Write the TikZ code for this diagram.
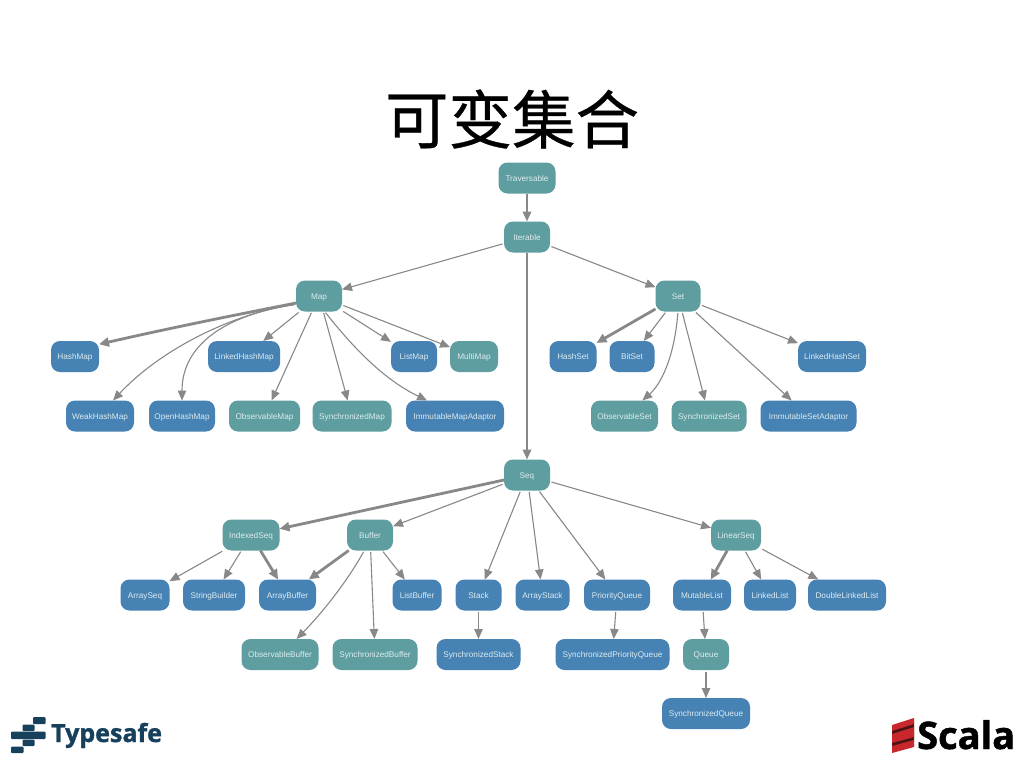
\documentclass[tikz,border=0pt]{standalone}
\usepackage{fontspec}
\setmainfont{Liberation Sans}
\newfontfamily\cjkfont[FakeBold=0.5]{Noto Sans CJK SC}
\newfontfamily\logofont{Open Sans}
\newfontfamily\logoheavy[FakeBold=1.2]{Open Sans Bold}
\usetikzlibrary{arrows.meta}
\definecolor{tealbox}{HTML}{5F9EA0}
\definecolor{bluebox}{HTML}{4682B4}
\definecolor{edgegray}{HTML}{888888}
\definecolor{boxtext}{HTML}{DCECEF}
\definecolor{typesafe}{HTML}{17405C}
\definecolor{scalared}{HTML}{C8282C}
\definecolor{scaladark}{HTML}{4A1414}
\tikzset{
  box/.style={rectangle,rounded corners=9pt,minimum height=31pt,inner sep=0pt,outer sep=0pt,
    text=boxtext,font=\fontsize{8.2}{9}\selectfont,text height=7pt,text depth=1pt},
  tbox/.style={box,fill=tealbox},
  bbox/.style={box,fill=bluebox},
  link/.style={draw=edgegray,line width=1.1pt,-{Triangle[length=10pt,width=8.5pt]},shorten <=1.5pt},
  heavy/.style={link,line width=2.8pt,-{Triangle[length=10pt,width=9pt]},shorten <=0pt},
  mid/.style={link,line width=2pt,shorten <=0pt},
  tsbar/.style={fill=typesafe,rounded corners=1pt},
  scband/.style={fill=scalared}
}
\begin{document}
\begin{tikzpicture}[x=1pt,y=-1pt]
\useasboundingbox (0,0) rectangle (1024,768);
\fill[white] (0,0) rectangle (1024,768);
\node[font=\cjkfont\fontsize{63.5}{70}\selectfont,text=black] (title) at (512,119) {可变集合};

\node[tbox,minimum width=57pt] (Traversable) at (527,178) {Traversable};
\node[tbox,minimum width=46pt] (Iterable) at (527,237) {Iterable};
\node[tbox,minimum width=46pt] (Map) at (319,296) {Map};
\node[tbox,minimum width=45pt] (Set) at (678,296) {Set};
\node[tbox,minimum width=46pt] (Seq) at (527,475) {Seq};
\node[bbox,minimum width=48pt] (HashMap) at (75,356.5) {HashMap};
\node[bbox,minimum width=72pt] (LinkedHashMap) at (244,356.5) {LinkedHashMap};
\node[bbox,minimum width=46pt] (ListMap) at (414,356.5) {ListMap};
\node[tbox,minimum width=48pt] (MultiMap) at (474,356.5) {MultiMap};
\node[bbox,minimum width=47pt] (HashSet) at (573,356.5) {HashSet};
\node[bbox,minimum width=45pt] (BitSet) at (632,356.5) {BitSet};
\node[bbox,minimum width=68pt] (LinkedHashSet) at (832,356.5) {LinkedHashSet};
\node[bbox,minimum width=68pt] (WeakHashMap) at (100,416) {WeakHashMap};
\node[bbox,minimum width=66pt] (OpenHashMap) at (182,416) {OpenHashMap};
\node[tbox,minimum width=71pt] (ObservableMap) at (264.5,416) {ObservableMap};
\node[tbox,minimum width=79pt] (SynchronizedMap) at (352,416) {SynchronizedMap};
\node[bbox,minimum width=98pt] (ImmutableMapAdaptor) at (455,416) {ImmutableMapAdaptor};
\node[tbox,minimum width=67pt] (ObservableSet) at (624.5,416) {ObservableSet};
\node[tbox,minimum width=75pt] (SynchronizedSet) at (709,416) {SynchronizedSet};
\node[bbox,minimum width=96pt] (ImmutableSetAdaptor) at (808.5,416) {ImmutableSetAdaptor};
\node[tbox,minimum width=57pt] (IndexedSeq) at (251,535) {IndexedSeq};
\node[tbox,minimum width=46pt] (Buffer) at (370,535) {Buffer};
\node[tbox,minimum width=50pt] (LinearSeq) at (736,535) {LinearSeq};
\node[bbox,minimum width=49pt] (ArraySeq) at (145,595) {ArraySeq};
\node[bbox,minimum width=62pt] (StringBuilder) at (214,595) {StringBuilder};
\node[bbox,minimum width=57pt] (ArrayBuffer) at (287.5,595) {ArrayBuffer};
\node[bbox,minimum width=49pt] (ListBuffer) at (417,595) {ListBuffer};
\node[bbox,minimum width=46pt] (Stack) at (478.5,595) {Stack};
\node[bbox,minimum width=54pt] (ArrayStack) at (542.5,595) {ArrayStack};
\node[bbox,minimum width=66pt] (PriorityQueue) at (617,595) {PriorityQueue};
\node[bbox,minimum width=58pt] (MutableList) at (702,595) {MutableList};
\node[bbox,minimum width=52pt] (LinkedList) at (770,595) {LinkedList};
\node[bbox,minimum width=78pt] (DoubleLinkedList) at (847,595) {DoubleLinkedList};
\node[tbox,minimum width=77pt] (ObservableBuffer) at (280,654.5) {ObservableBuffer};
\node[tbox,minimum width=85pt] (SynchronizedBuffer) at (375,654.5) {SynchronizedBuffer};
\node[bbox,minimum width=84pt] (SynchronizedStack) at (478.5,654.5) {SynchronizedStack};
\node[bbox,minimum width=114pt] (SynchronizedPriorityQueue) at (612.5,654.5) {SynchronizedPriorityQueue};
\node[tbox,minimum width=46pt] (Queue) at (706,654.5) {Queue};
\node[bbox,minimum width=88pt] (SynchronizedQueue) at (706,713.5) {SynchronizedQueue};

\draw[mid] (Traversable) -- (Iterable);
\draw[link] (Iterable) -- (Map);
\draw[link] (Iterable) -- (Set);
\draw[mid] (Iterable) -- (Seq);

\draw[heavy] (Map.197) .. controls (240,314) and (170,328) .. (HashMap.27);
\draw[link] (Map.200) .. controls (240,312) and (165,345) .. (WeakHashMap.50);
\draw[link] (Map.200) .. controls (225,315) and (182,345) .. (OpenHashMap.north);
\draw[link] (Map) -- (LinkedHashMap);
\draw[link] (Map) -- (ObservableMap);
\draw[link] (Map) -- (SynchronizedMap);
\draw[link] (Map.290) .. controls (355,350) and (385,380) .. (ImmutableMapAdaptor.151);
\draw[link] (Map) -- (ListMap);
\draw[link] (Map) -- (MultiMap);

\draw[heavy] (Set) -- (HashSet);
\draw[link] (Set) -- (BitSet);
\draw[link] (Set.south) .. controls (674,360) and (660,385) .. (ObservableSet.41);
\draw[link] (Set) -- (SynchronizedSet);
\draw[link] (Set) -- (ImmutableSetAdaptor);
\draw[link] (Set) -- (LinkedHashSet);

\draw[heavy] (Seq) -- (IndexedSeq);
\draw[link] (Seq) -- (Buffer);
\draw[link] (Seq) -- (Stack);
\draw[link] (Seq) -- (ArrayStack);
\draw[link] (Seq) -- (PriorityQueue);
\draw[link] (Seq) -- (LinearSeq);

\draw[link] (IndexedSeq) -- (ArraySeq);
\draw[link] (IndexedSeq) -- (StringBuilder);
\draw[heavy] (IndexedSeq) -- (ArrayBuffer);
\draw[heavy] (Buffer) -- (ArrayBuffer);
\draw[link] (Buffer.250) .. controls (345,585) and (320,615) .. (ObservableBuffer.43);
\draw[link] (Buffer) -- (SynchronizedBuffer);
\draw[link] (Buffer) -- (ListBuffer);
\draw[link] (Stack) -- (SynchronizedStack);
\draw[link] (PriorityQueue) -- (SynchronizedPriorityQueue);
\draw[heavy] (LinearSeq) -- (MutableList);
\draw[link] (LinearSeq) -- (LinkedList);
\draw[link] (LinearSeq) -- (DoubleLinkedList);
\draw[link] (MutableList) -- (Queue);
\draw[link] (Queue) -- (SynchronizedQueue);

% Typesafe logo
\fill[tsbar] (33,717) rectangle (45.5,724);
\fill[tsbar] (22.5,724.5) rectangle (34.5,731);
\fill[tsbar] (11,731.5) rectangle (45.5,739);
\fill[tsbar] (22.5,739.5) rectangle (34.5,746);
\fill[tsbar] (11,746.5) rectangle (23.5,753);
\node[anchor=base west,inner sep=0pt,text=typesafe,font=\logoheavy\fontsize{25}{30}\selectfont] (tslogo) at (51,742) {Typesafe};

% Scala logo
\fill[scaladark] (892,729) -- (914,722) -- (914,742) -- (892,749) -- cycle;
\fill[scband] (892,725) -- (914,718) -- (914,724) -- (892,731) -- cycle;
\fill[scband] (892,734) -- (914,727) -- (914,737) -- (892,743) -- cycle;
\fill[scband] (892,746) -- (914,740) -- (914,747) -- (892,753) -- cycle;
\node[anchor=base west,inner sep=0pt,text=black,font=\logoheavy\fontsize{38}{40}\selectfont] (sclogo) at (917,749) {Scala};
\end{tikzpicture}
\end{document}
